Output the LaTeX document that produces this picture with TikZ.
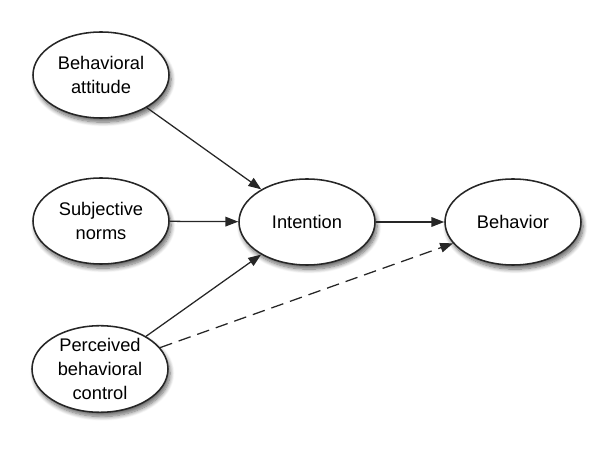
\documentclass[tikz,border=0pt]{standalone}
\usepackage{fontspec}
\setmainfont{Liberation Sans}
\usepackage{tikz}
\usetikzlibrary{shapes.geometric, arrows.meta, positioning, shadows.blur}

\tikzset{
  construct/.style={ellipse, draw=black!85, line width=1.1pt, fill=white,
    minimum width=3.4cm, minimum height=2.15cm, inner sep=0pt,
    align=center, font=\fontsize{13}{17}\selectfont,
    blur shadow={shadow xshift=1.5pt, shadow yshift=-3pt, shadow opacity=60, shadow blur steps=8, shadow blur radius=3pt}},
  path/.style={line width=0.9pt, draw=black!85, -{Triangle[length=3.2mm,width=2.4mm]}},
  direct/.style={path, dash pattern=on 9pt off 5pt}
}

\begin{document}
\begin{tikzpicture}
  % Frame of the picture
  \useasboundingbox (0,0) rectangle (15,11.625);

  % Predictors on the left
  \node[construct] (attitude) at (2.525,9.75) {Behavioral\\attitude};
  \node[construct] (norms) at (2.525,6.1) {Subjective\\norms};
  \node[construct] (control) at (2.5,2.4) {Perceived\\behavioral\\control};

  % Intention and behavior
  \node[construct] (intention) at (7.675,6.075) {Intention};
  \node[construct] (behavior) at (12.825,6.075) {Behavior};

  % Paths to intention
  \draw[path] (attitude) -- (intention);
  \draw[path] (norms) -- (intention);
  \draw[path] (control) -- (intention);

  % Paths to behavior
  \draw[path] (intention) -- (behavior);
  \draw[direct] (control) -- (behavior);
\end{tikzpicture}
\end{document}
